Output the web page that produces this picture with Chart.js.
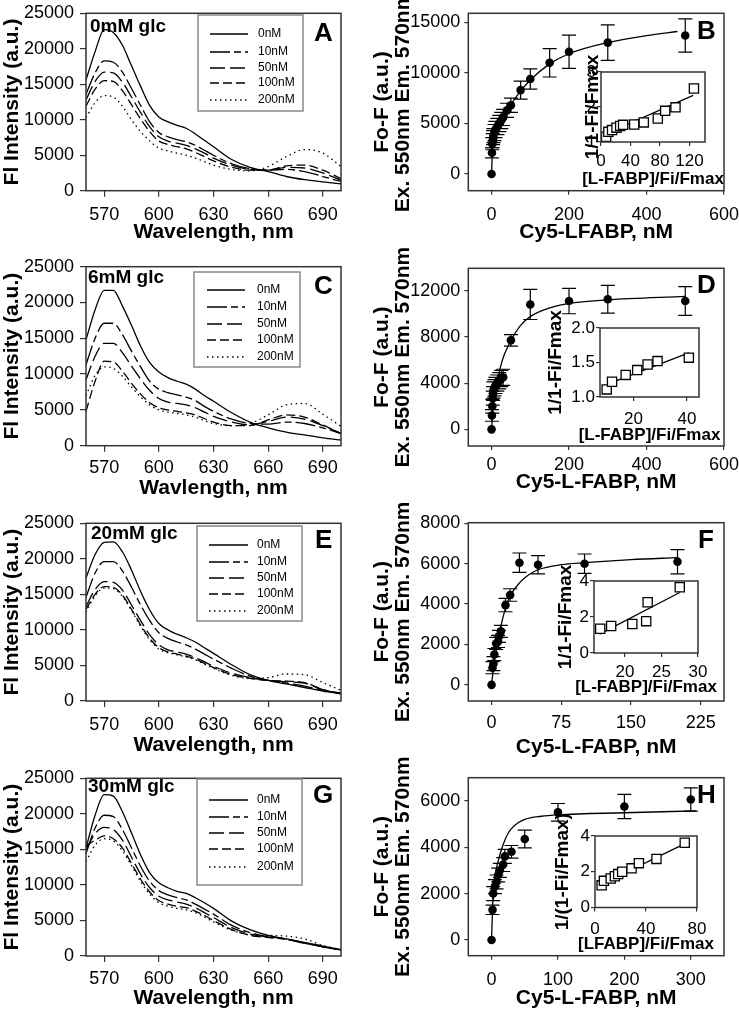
<!DOCTYPE html>
<html><head><meta charset="utf-8">
<script src="https://cdn.jsdelivr.net/npm/chart.js@4.4.1/dist/chart.umd.min.js"></script>
<style>
html,body{margin:0;padding:0;background:#fff;}
#wrap{position:relative;width:739px;height:1011px;overflow:hidden;background:#fff;}
canvas{position:absolute;}
</style></head><body><div id="wrap"></div>
<script>
// ---------------- DATA ----------------
const wavelengths = [560,565,570,575,580,585,590,595,600,605,610,615,620,625,630,640,650,660,670,680,690,700];
const concLabels = ['0nM','10nM','50nM','100nM','200nM'];

const specA_0   = [15600,19600,22700,22300,20500,17600,14700,12000,10400,9700,9200,8800,8000,7100,6200,4400,3300,2700,2000,1550,1250,950];
const specA_10  = [13600,16600,18300,18100,16700,14400,12000,9700,8200,7600,7200,6900,6400,5700,5000,3800,3100,2900,3000,2700,2000,1300];
const specA_50  = [12800,15400,16700,16600,15300,13200,11000,9000,7600,7000,6700,6400,5900,5300,4600,3600,3000,2900,3300,3200,2500,1500];
const specA_100 = [11900,14300,15500,15400,14100,12100,10100,8300,7000,6500,6200,5900,5400,4800,4200,3300,2900,2900,3500,3600,2900,1700];
const specA_200 = [10300,12400,13400,13200,11900,10000,8300,7000,6000,5600,5300,5000,4600,4100,3600,3000,2800,3400,4800,5800,5300,3400];

const specC_0   = [14800,19000,21700,21700,19500,16800,13900,11600,10300,9500,9000,8600,7900,7000,6200,4600,3300,2500,1900,1500,1100,800];
const specC_10  = [11300,15000,17100,17100,15500,13200,11000,9000,7900,7400,7100,6800,6300,5500,4800,3700,3100,3000,3300,3100,2500,1700];
const specC_50  = [9200,12500,14300,14300,13000,11100,9300,7700,6600,6100,5900,5700,5300,4700,4100,3300,2900,3400,4000,3700,2800,1700];
const specC_100 = [4800,9000,11800,11700,10400,8700,7200,6000,5300,5000,4800,4600,4300,3800,3300,2800,2800,3600,4300,4000,2900,1700];
const specC_200 = [7000,9800,11000,10800,9700,8200,6800,5700,5000,4700,4500,4300,4000,3500,3100,2800,3100,4300,5700,5900,4400,2700];

const specE_0   = [17300,20600,22300,22400,21000,18400,15400,12800,10900,10000,9400,8900,8300,7500,6700,5100,3700,2900,2400,1900,1400,1000];
const specE_10  = [14600,18000,19600,19600,18300,16000,13500,11300,9600,8800,8300,7900,7300,6600,5900,4600,3500,2900,2500,2100,1500,1100];
const specE_50  = [13300,15700,16800,16700,15600,13500,11300,9300,7900,7200,6900,6600,6100,5500,4900,3900,3300,2900,2700,2500,1600,1100];
const specE_100 = [12900,15000,16100,16000,14900,12900,10700,8800,7500,6900,6600,6300,5900,5300,4700,3700,3200,2900,2800,2600,1600,1000];
const specE_200 = [12500,14800,15900,15800,14700,12700,10500,8600,7300,6800,6500,6200,5800,5200,4600,3600,3200,3300,3800,3700,2600,1500];

const specG_0   = [15200,19800,22700,22500,20300,17300,14200,11700,10300,9600,9100,8800,8200,7500,6700,4900,3700,2900,2400,1900,1400,850];
const specG_10  = [14400,18000,19800,19600,17800,15200,12600,10500,9200,8600,8200,7900,7300,6600,5900,4300,3300,2700,2300,1800,1300,850];
const specG_50  = [15000,17200,18100,17800,16300,13900,11500,9600,8400,7900,7600,7300,6800,6100,5400,4000,3100,2700,2400,1800,1300,850];
const specG_100 = [15500,16300,16900,16500,15200,13000,10800,9000,7800,7300,7000,6800,6300,5700,5000,3700,2900,2600,2400,1800,1300,850];
const specG_200 = [13300,15600,16500,16200,14800,12700,10500,8700,7500,7000,6700,6500,6100,5500,4800,3600,3000,2900,2800,2400,1500,900];

// binding curves
const bindB_x   = [0,1,2,3,4,5,7.5,10,15,20,25,30,40,50,75,100,150,200,300,500];
const bindB_y   = [0,2100,3000,3300,3600,3800,4100,4400,4700,5000,5300,5600,6300,6800,8300,9400,11000,12100,13000,13700];
const bindB_err = [0,500,600,700,700,700,800,800,800,800,800,800,700,700,900,1000,1400,1650,1750,1650];
const fitB_x    = [0,2,5,10,20,30,50,75,100,150,200,300,400,480];
const fitB_y    = [0,2000,3100,4000,5000,5700,6900,8200,9300,10900,11900,13000,13700,14100];

const bindD_x   = [0,1,2,3,4,5,7.5,10,15,20,25,30,50,100,200,300,500];
const bindD_y   = [0,1200,2000,2700,3100,3400,3600,3800,4000,4200,4400,4500,7700,10800,11100,11250,11100];
const bindD_err = [0,500,600,600,600,700,700,700,700,700,700,700,500,1300,1100,1200,1250];
const fitD_x    = [0,2,5,10,20,30,40,50,75,100,150,200,300,500];
const fitD_y    = [0,1000,2200,3500,5000,6200,7000,7700,9000,9750,10500,10900,11200,11500];

const bindF_x   = [0,1,2,3,5,7,8,10,15,20,30,50,100,200];
const bindF_y   = [0,850,1050,1500,2050,2150,2400,2650,3950,4450,6050,5950,6000,6100];
const bindF_err = [0,300,350,300,300,300,300,300,330,310,480,450,480,600];
const fitF_x    = [0,2,5,10,15,20,30,40,50,75,100,150,200];
const fitF_y    = [0,800,1700,2900,3800,4400,5050,5450,5700,5950,6050,6200,6300];

const bindH_x   = [0,1.5,2.5,5,7.5,10,12.5,17.5,20,30,50,100,200,300];
const bindH_y   = [0,1300,2000,2300,2500,2800,3000,3250,3600,3800,4350,5500,5750,6050];
const bindH_err = [0,200,300,300,300,300,300,300,300,270,380,380,520,500];
const fitH_x    = [0,1,2,5,10,15,20,25,30,40,50,75,100,200,308];
const fitH_y    = [0,900,1700,2700,3400,3900,4300,4600,4800,5050,5200,5330,5390,5480,5560];

// insets
const insB_x = [7,10,15,21,26,30,45,58,77,87,101,126];
const insB_y = [1.15,1.29,1.34,1.41,1.46,1.49,1.5,1.56,1.67,1.89,1.99,2.53];
const insFitB_x = [3,125], insFitB_y = [1.2,2.33];
const insD_x = [10,12,17.1,21.4,25.3,29,40.7];
const insD_y = [1.11,1.22,1.32,1.39,1.47,1.52,1.57];
const insFitD_x = [10.6,40.7], insFitD_y = [1.19,1.64];
const insF_x = [16.6,18.1,21,22.9,23.1,27.5];
const insF_y = [1.35,1.5,1.61,1.77,2.82,3.65];
const insFitF_x = [16.5,27.5], insFitF_y = [1.05,3.36];
const insH_x = [5.2,7,12.3,15.6,18.2,21.3,28.7,34.4,48.2,70.4];
const insH_y = [1.24,1.49,1.62,1.75,1.87,2.0,2.19,2.48,2.72,3.62];
const insFitH_x = [5.2,71.7], insFitH_y = [1.3,3.62];

// tick labels
const wlTicks = [570,600,630,660,690];
const specYTicks = [0,5000,10000,15000,20000,25000];
const B_xTicks = [0,200,400,600], B_yTicks = [0,5000,10000,15000];
const D_xTicks = [0,200,400,600], D_yTicks = [0,4000,8000,12000];
const F_xTicks = [0,75,150,225], F_yTicks = [0,2000,4000,6000,8000];
const H_xTicks = [0,100,200,300], H_yTicks = [0,2000,4000,6000];
const insB_xTicks = [0,40,80,120], insB_yTicks = [1,2,3];
const insD_xTicks = [20,40], insD_yTicks = [1.0,1.5,2.0];
const insF_xTicks = [20,25,30], insF_yTicks = [0,2,4];
const insH_xTicks = [0,40,80], insH_yTicks = [0,2,4];

// ---------------- DRAWING ----------------
const FONT = "'Liberation Sans', Arial, Helvetica, sans-serif";
const dashes = [[], [20,4,7,4], [15,5], [9,4], [1.5,3.5]];
Chart.defaults.color = '#000';

function pts(xs, ys){ return xs.map((x,i)=>({x:x, y:ys[i]})); }

function makeDeco(o){
  const ox = o.rect[0], oy = o.rect[1];
  return {
    id:'deco',
    beforeDraw(ch){
      if(!o.whiteBg) return;
      const a=ch.chartArea, c=ch.ctx;
      c.save(); c.fillStyle='#fff'; c.fillRect(a.left,a.top,a.right-a.left,a.bottom-a.top); c.restore();
    },
    beforeDatasetsDraw(ch){
      const c=ch.ctx, xs=ch.scales.x, ys=ch.scales.y;
      ch.data.datasets.forEach(ds=>{
        if(!ds.errorBars) return;
        c.save(); c.strokeStyle='#000'; c.lineWidth=1.2;
        ds.data.forEach((p,i)=>{
          const e=ds.errorBars[i]; if(!e) return;
          const px=xs.getPixelForValue(p.x), t=ys.getPixelForValue(p.y+e), b=ys.getPixelForValue(p.y-e);
          c.beginPath(); c.moveTo(px,t); c.lineTo(px,b);
          c.moveTo(px-7,t); c.lineTo(px+7,t); c.moveTo(px-7,b); c.lineTo(px+7,b); c.stroke();
        });
        c.restore();
      });
    },
    afterDatasetsDraw(ch){
      const a=ch.chartArea, c=ch.ctx;
      c.save(); c.strokeStyle='#333'; c.lineWidth=1.5;
      c.strokeRect(a.left,a.top,a.right-a.left,a.bottom-a.top); c.restore();
    },
    afterDraw(ch){
      const c=ch.ctx, a=ch.chartArea;
      c.save();
      c.fillStyle='#000';
      // axis titles (drawn without width compression)
      c.font='bold '+o.xTitleSize+'px '+FONT; c.textAlign='center'; c.textBaseline='middle';
      c.fillText(o.xTitle,(a.left+a.right)/2,a.bottom+o.xTitleOff);
      c.font='bold '+o.yTitleSize+'px '+FONT;
      const yl=Array.isArray(o.yTitle)?o.yTitle:[o.yTitle];
      yl.forEach((t,i)=>{
        c.save(); c.translate(o.yTitleX-ox+i*o.yTitleSize,(a.top+a.bottom)/2); c.rotate(-Math.PI/2);
        c.fillText(t,0,0); c.restore();
      });
      if(o.legend){
        const L=o.legend;
        c.strokeStyle='#888'; c.lineWidth=1.5;
        c.strokeRect(L.box[0]-ox,L.box[1]-oy,L.box[2],L.box[3]);
        c.font='12px '+FONT; c.textAlign='left'; c.textBaseline='middle';
        concLabels.forEach((lab,i)=>{
          const y=L.rows[i]-oy;
          c.strokeStyle='#000'; c.lineWidth=1.3; c.setLineDash(dashes[i]);
          c.beginPath(); c.moveTo(L.lx[0]-ox,y); c.lineTo(L.lx[1]-ox,y); c.stroke();
          c.setLineDash([]);
          c.fillText(lab,L.tx-ox,y);
        });
      }
      (o.texts||[]).forEach(t=>{
        c.font=(t.bold?'bold ':'')+t.size+'px '+FONT;
        c.textAlign=t.align||'left'; c.textBaseline='alphabetic';
        c.fillText(t.t,t.x-ox,t.y-oy);
      });
      c.restore();
    }
  };
}

function mkChart(o){
  const wrap=document.getElementById('wrap');
  const cv=document.createElement('canvas');
  const [cx,cy,cw,chh]=o.rect;
  cv.width=cw; cv.height=chh;
  cv.style.left=cx+'px'; cv.style.top=cy+'px'; cv.style.width=cw+'px'; cv.style.height=chh+'px';
  wrap.appendChild(cv);
  const [pl,pt,pr,pb]=o.plot;
  const yW=pl-cx, xH=o.xH;
  const pad={left:0,top:pt-cy,right:cx+cw-pr,bottom:cy+chh-pb-xH};
  const xf=o.xfmt||(v=>String(v)), yf=o.yfmt||(v=>String(v));
  const tf={family:FONT,size:o.tickSize,lineHeight:1.2};
  return new Chart(cv,{
    type:'scatter',
    data:{datasets:o.datasets},
    options:{
      responsive:false, animation:false, devicePixelRatio:1, events:[],
      layout:{padding:pad},
      plugins:{legend:{display:false},tooltip:{enabled:false}},
      scales:{
        x:{type:'linear',position:'bottom',min:o.xr[0],max:o.xr[1],
          afterBuildTicks:a=>{a.ticks=o.xt.map(v=>({value:v}));},
          afterFit:a=>{a.height=xH;a.paddingLeft=0;a.paddingRight=0;a.paddingTop=0;a.paddingBottom=0;},
          ticks:{callback:v=>xf(v),font:tf,color:'#000',padding:o.xPad,maxRotation:0,minRotation:0,autoSkip:false},
          grid:{display:true,drawOnChartArea:false,drawTicks:true,tickLength:o.tl,color:'#333',lineWidth:1.2},
          border:{display:false},
          title:{display:false}
        },
        y:{type:'linear',position:'left',min:o.yr[0],max:o.yr[1],
          afterBuildTicks:a=>{a.ticks=o.yt.map(v=>({value:v}));},
          afterFit:a=>{a.width=yW;a.paddingLeft=0;a.paddingRight=0;a.paddingTop=0;a.paddingBottom=0;},
          ticks:{callback:v=>yf(v),font:tf,color:'#000',padding:o.yPad,autoSkip:false},
          grid:{display:true,drawOnChartArea:false,drawTicks:true,tickLength:o.tl,color:'#333',lineWidth:1.2},
          border:{display:false},
          title:{display:false}
        }
      }
    },
    plugins:[makeDeco(o)]
  });
}

// ---- spectra panels ----
const specPanels = [
  {series:[specA_0,specA_10,specA_50,specA_100,specA_200], top:13.3, bot:190.7, xTitle:'Wavelength, nm', tickOff:24.3, titleOff:41.5,
   glc:{t:'0mM glc',x:90,y:32}, letter:{t:'A',x:314,y:41},
   legend:{box:[198,15,105,96],rows:[34,52,68,83,100],lx:[210,248],tx:258}},
  {series:[specC_0,specC_10,specC_50,specC_100,specC_200], top:266.7, bot:445.7, xTitle:'Wavlength, nm', tickOff:22.6, titleOff:42.6,
   glc:{t:'6mM glc',x:88,y:283}, letter:{t:'C',x:314,y:294},
   legend:{box:[194,272,106,95],rows:[290,307,324,340,357],lx:[207,245],tx:257}},
  {series:[specE_0,specE_10,specE_50,specE_100,specE_200], top:523.3, bot:701, xTitle:'Wavelength, nm', tickOff:24, titleOff:44,
   glc:{t:'20mM glc',x:91,y:539}, letter:{t:'E',x:315,y:548},
   legend:{box:[197,526,105,95],rows:[545,562,578,594,611],lx:[209,248],tx:257}},
  {series:[specG_0,specG_10,specG_50,specG_100,specG_200], top:778.3, bot:956, xTitle:'Wavelength, nm', tickOff:23.3, titleOff:42.3,
   glc:{t:'30mM glc',x:88,y:792}, letter:{t:'G',x:313,y:803},
   legend:{box:[197,779,105,106],rows:[800,817,833,849,867],lx:[209,248],tx:257}}
];
specPanels.forEach(p=>{
  const cTop=Math.max(0,Math.floor(p.top-32));
  const xH=p.titleOff+12;
  const cH=Math.ceil(p.bot+xH-cTop);
  mkChart({
    rect:[0,cTop,370,cH], plot:[86,p.top,341,p.bot], xH:xH,
    xr:[560,700], yr:[0,25000], xt:wlTicks, yt:specYTicks,
    tickSize:18, tl:6, xPad:p.tickOff-6-10.8, yPad:6,
    xTitle:p.xTitle, xTitleSize:21, xTitleOff:p.titleOff,
    yTitle:'Fl Intensity (a.u.)', yTitleSize:21, yTitleX:12,
    datasets:p.series.map((s,i)=>({data:pts(wavelengths,s),showLine:true,pointRadius:0,borderColor:'#000',borderWidth:1.3,borderDash:dashes[i],cubicInterpolationMode:'monotone'})),
    legend:p.legend,
    texts:[{t:p.glc.t,x:p.glc.x,y:p.glc.y,size:19,bold:true},{t:p.letter.t,x:p.letter.x,y:p.letter.y,size:26,bold:true}]
  });
});

// ---- binding panels ----
const bindPanels = [
  {bx:bindB_x,by:bindB_y,be:bindB_err,fx:fitB_x,fy:fitB_y,top:13.3,bot:190.7,xr:[-60,600],yr:[-1650,15900],xt:B_xTicks,yt:B_yTicks,
   xTitle:'Cy5-LFABP, nM',tickOff:24.3,titleOff:41.3,letter:{t:'B',x:697,y:38.5}},
  {bx:bindD_x,by:bindD_y,be:bindD_err,fx:fitD_x,fy:fitD_y,top:268.3,bot:446,xr:[-60,600],yr:[-1440,13930],xt:D_xTicks,yt:D_yTicks,
   xTitle:'Cy5-L-FABP, nM',tickOff:19,titleOff:36,letter:{t:'D',x:697,y:293}},
  {bx:bindF_x,by:bindF_y,be:bindF_err,fx:fitF_x,fy:fitF_y,top:522.7,bot:701,xr:[-25,250],yr:[-800,8030],xt:F_xTicks,yt:F_yTicks,
   xTitle:'Cy5-L-FABP, nM',tickOff:22,titleOff:46,letter:{t:'F',x:698,y:548}},
  {bx:bindH_x,by:bindH_y,be:bindH_err,fx:fitH_x,fy:fitH_y,top:777.7,bot:955.7,xr:[-35,350],yr:[-675,6990],xt:H_xTicks,yt:H_yTicks,
   xTitle:'Cy5-L-FABP, nM',tickOff:24.3,titleOff:42.6,letter:{t:'H',x:697,y:803}}
];
bindPanels.forEach(p=>{
  const cTop=Math.max(0,Math.floor(p.top-32));
  const xH=p.titleOff+12;
  const cH=Math.min(1011-cTop,Math.ceil(p.bot+xH-cTop));
  mkChart({
    rect:[370,cTop,369,cH], plot:[468.3,p.top,724,p.bot], xH:xH,
    xr:p.xr, yr:p.yr, xt:p.xt, yt:p.yt,
    tickSize:18, tl:4, xPad:p.tickOff-4-10.8, yPad:4,
    xTitle:p.xTitle, xTitleSize:21, xTitleOff:p.titleOff,
    yTitle:['Fo-F (a.u.)','Ex. 550nm Em. 570nm'], yTitleSize:21, yTitleX:382,
    datasets:[
      {data:pts(p.bx,p.by),errorBars:p.be,pointRadius:4.3,pointBackgroundColor:'#000',pointBorderWidth:0,showLine:false},
      {data:pts(p.fx,p.fy),showLine:true,pointRadius:0,borderColor:'#000',borderWidth:1.3,cubicInterpolationMode:'monotone'}
    ],
    texts:[{t:p.letter.t,x:p.letter.x,y:p.letter.y,size:26,bold:true}]
  });
});

// ---- insets ----
const insetPanels = [
  {px:insB_x,py:insB_y,fx:insFitB_x,fy:insFitB_y,plot:[601,72,705,142],left:570,titleX:593,xr:[0,141],yr:[1,3],xt:insB_xTicks,yt:insB_yTicks,
   yTitle:'1/1-Fi/Fmax',xTitle:'[L-FABP]/Fi/Fmax',tickOff:19.5,titleOff:37},
  {px:insD_x,py:insD_y,fx:insFitD_x,fy:insFitD_y,plot:[600,328,699,397],left:540,titleX:556,xr:[7.5,44.5],yr:[1,2],xt:insD_xTicks,yt:insD_yTicks,
   yTitle:'1/1-Fi/Fmax',xTitle:'[L-FABP]/Fi/Fmax',tickOff:22,titleOff:38,yfmt:v=>v.toFixed(1)},
  {px:insF_x,py:insF_y,fx:insFitF_x,fy:insFitF_y,plot:[594,581,698,653],left:545,titleX:566,xr:[15.75,30],yr:[0,4],xt:insF_xTicks,yt:insF_yTicks,
   yTitle:'1/1-Fi/Fmax',xTitle:'[L-FABP]/Fi/Fmax',tickOff:19,titleOff:34},
  {px:insH_x,py:insH_y,fx:insFitH_x,fy:insFitH_y,plot:[595,836,697,907.5],left:545,titleX:563,xr:[0,80],yr:[0,4],xt:insH_xTicks,yt:insH_yTicks,
   yTitle:'1/(1-Fi/Fmax)',xTitle:'[LFABP]/Fi/Fmax',tickOff:22,titleOff:37}
];
insetPanels.forEach(p=>{
  const cTop=Math.floor(p.plot[1]-40);
  const xH=p.titleOff+12;
  const cH=Math.ceil(p.plot[3]+xH-cTop);
  mkChart({
    rect:[p.left,cTop,736-p.left,cH], plot:p.plot, xH:xH,
    xr:p.xr, yr:p.yr, xt:p.xt, yt:p.yt, yfmt:p.yfmt,
    tickSize:17, tl:4, xPad:p.tickOff-4-10.2, yPad:1,
    xTitle:p.xTitle, xTitleSize:17, xTitleOff:p.titleOff,
    yTitle:p.yTitle, yTitleSize:19, yTitleX:p.titleX,
    whiteBg:true,
    datasets:[
      {data:pts(p.px,p.py),pointStyle:'rect',pointRadius:6.5,pointBackgroundColor:'#fff',pointBorderColor:'#000',pointBorderWidth:1.3,showLine:false},
      {data:pts(p.fx,p.fy),showLine:true,pointRadius:0,borderColor:'#000',borderWidth:1.3}
    ]
  });
});
</script>
</body></html>
